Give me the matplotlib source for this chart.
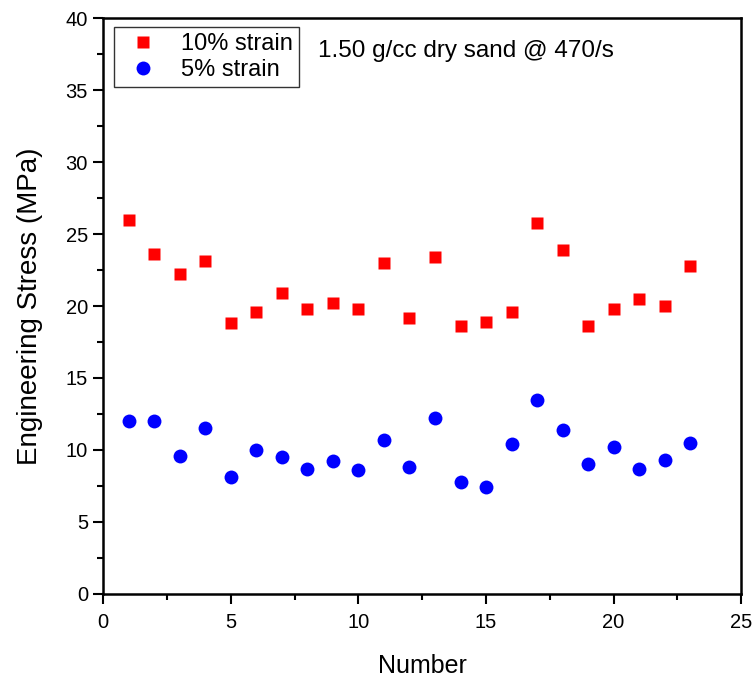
import numpy as np
import matplotlib
matplotlib.use("Agg")
import matplotlib.pyplot as plt
from matplotlib.ticker import MultipleLocator

plt.rcParams["font.family"] = ["Liberation Sans", "DejaVu Sans"]

# nilai
number = list(range(1, 24))
stress_10 = [26.0, 23.6, 22.2, 23.1, 18.8, 19.6, 20.9, 19.8, 20.2, 19.8, 23.0, 19.2,
             23.4, 18.6, 18.9, 19.6, 25.8, 23.9, 18.6, 19.8, 20.5, 20.0, 22.8]
stress_5 = [12.0, 12.0, 9.6, 11.5, 8.1, 10.0, 9.5, 8.7, 9.2, 8.6, 10.7, 8.8,
            12.2, 7.8, 7.4, 10.4, 13.5, 11.4, 9.0, 10.2, 8.7, 9.3, 10.5]

fig = plt.figure(figsize=(7.54, 6.77), dpi=100, facecolor="white")
ax = fig.add_axes([0.137, 0.123, 0.846, 0.850])

ax.plot(number, stress_10, "s", color="#ff0000", ms=9, mec="none", label="10% strain")
ax.plot(number, stress_5, "o", color="#0000ff", ms=10, mec="none", label="5% strain")

ax.set_xlim(0, 25)
ax.set_ylim(0, 40)
ax.xaxis.set_major_locator(MultipleLocator(5))
ax.xaxis.set_minor_locator(MultipleLocator(2.5))
ax.yaxis.set_major_locator(MultipleLocator(5))
ax.yaxis.set_minor_locator(MultipleLocator(2.5))
ax.tick_params(which="major", direction="out", length=7, width=1.5, labelsize=14.5)
ax.tick_params(which="minor", direction="out", length=4, width=1.5)
ax.tick_params(axis="x", which="major", pad=7)
ax.tick_params(axis="y", which="major", pad=4)
for s in ax.spines.values():
    s.set_linewidth(1.8)

ax.set_xlabel("Number", fontsize=18, labelpad=16)
ax.set_ylabel("Engineering Stress (MPa)", fontsize=20, labelpad=16)

leg = ax.legend(loc="upper left", fontsize=17, frameon=True, fancybox=False,
                edgecolor="black", handletextpad=0.6, borderpad=0.25,
                labelspacing=0.15, borderaxespad=0,
                bbox_to_anchor=(0.016, 0.984))
leg.get_frame().set_linewidth(1.0)

ax.text(0.337, 0.944, "1.50 g/cc dry sand @ 470/s", transform=ax.transAxes,
        fontsize=17.5, va="center", ha="left")

fig.savefig("out.png", dpi=100, facecolor="white")
